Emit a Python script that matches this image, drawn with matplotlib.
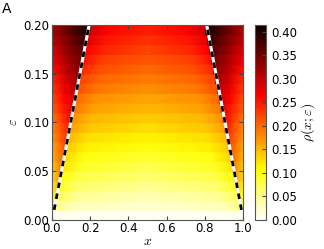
import numpy as np
import matplotlib
matplotlib.use("Agg")
import matplotlib.pyplot as plt

# band centres in epsilon (bands 0.01 high, 0..0.2)
eps_c = [0.005, 0.015, 0.025, 0.035, 0.045, 0.055, 0.065, 0.075, 0.085, 0.095,
         0.105, 0.115, 0.125, 0.135, 0.145, 0.155, 0.165, 0.175, 0.185, 0.195]
# density read at x = 0 (edge)
rho_edge = [0.006, 0.06, 0.09, 0.11, 0.13, 0.14, 0.15, 0.16, 0.17, 0.18,
            0.19, 0.205, 0.215, 0.23, 0.24, 0.255, 0.27, 0.285, 0.30, 0.315]
# density at x = eps/2
rho_half = [0.008, 0.08, 0.11, 0.13, 0.15, 0.165, 0.18, 0.19, 0.205, 0.215,
            0.23, 0.245, 0.26, 0.275, 0.29, 0.305, 0.32, 0.335, 0.35, 0.365]
# density just inside the boundary x = eps
rho_peak = [0.010, 0.10, 0.13, 0.155, 0.175, 0.19, 0.205, 0.22, 0.235, 0.25,
            0.265, 0.28, 0.295, 0.31, 0.325, 0.34, 0.355, 0.37, 0.39, 0.41]
# density just outside the boundary
rho_jump = [0.008, 0.05, 0.07, 0.09, 0.105, 0.12, 0.13, 0.14, 0.15, 0.165,
            0.175, 0.19, 0.20, 0.215, 0.225, 0.24, 0.255, 0.265, 0.28, 0.295]
# density at x = eps + 0.1
rho_after = [0.007, 0.03, 0.045, 0.06, 0.075, 0.09, 0.10, 0.115, 0.125, 0.14,
             0.15, 0.165, 0.175, 0.19, 0.20, 0.215, 0.225, 0.24, 0.25, 0.26]
# density at x = 0.5 (middle)
rho_mid = [0.006, 0.021, 0.034, 0.047, 0.06, 0.073, 0.086, 0.099, 0.112, 0.125,
           0.137, 0.15, 0.162, 0.175, 0.187, 0.198, 0.21, 0.222, 0.233, 0.245]

# boundary lines
line_eps = [0.01, 0.2]
line_xl = [0.012, 0.195]
line_xr = [0.992, 0.81]

band_h = 0.01
d = 0.002

plt.rcParams['mathtext.fontset'] = 'cm'
fig = plt.figure(figsize=(3.24, 2.49), dpi=100)
ax = fig.add_axes([0.16, 0.118, 0.59, 0.782])
cax = fig.add_axes([0.787, 0.118, 0.034, 0.782])

m = None
for i, e in enumerate(eps_c):
    xs = [0.0, e / 2, e - d, e + d, e + 0.1, 0.5,
          1 - e - 0.1, 1 - e - d, 1 - e + d, 1 - e / 2, 1.0]
    vs = [rho_edge[i], rho_half[i], rho_peak[i], rho_jump[i], rho_after[i], rho_mid[i],
          rho_after[i], rho_jump[i], rho_peak[i], rho_half[i], rho_edge[i]]
    ys = [e - band_h / 2 - 0.0003, e + band_h / 2 + 0.0003]
    Xb = np.array([xs, xs])
    Yb = np.array([[ys[0]] * len(xs), [ys[1]] * len(xs)])
    Cb = np.array([vs, vs])
    m = ax.pcolormesh(Xb, Yb, Cb, shading='gouraud', cmap='hot_r', vmin=0, vmax=0.415,
                      antialiased=False, zorder=1 + i * 0.001)

ax.plot(line_xl, line_eps, color='white', lw=2.2, zorder=3)
ax.plot(line_xl, line_eps, color='black', lw=2.0, ls=(0, (2.0, 2.0)), zorder=4)
ax.plot(line_xr, line_eps, color='white', lw=2.2, zorder=3)
ax.plot(line_xr, line_eps, color='black', lw=2.0, ls=(0, (2.0, 2.0)), zorder=4)

ax.set_xlim(0, 1)
ax.set_ylim(0, 0.2)
ax.set_xticks([0, 0.2, 0.4, 0.6, 0.8, 1.0])
ax.set_yticks([0, 0.05, 0.1, 0.15, 0.2])
ax.set_xticklabels(['0.0', '0.2', '0.4', '0.6', '0.8', '1.0'])
ax.set_yticklabels(['0.00', '0.05', '0.10', '0.15', '0.20'])
ax.tick_params(direction='in', top=True, right=True, labelsize=8.5, length=3,
               color='#444444', pad=2)
ax.set_xlabel(r'$x$', fontsize=10, labelpad=-1)
ax.set_ylabel(r'$\varepsilon$', fontsize=10, labelpad=2)
for s in ax.spines.values():
    s.set_color('#555555')
    s.set_zorder(5)

cb = fig.colorbar(m, cax=cax)
cb.set_ticks([0, 0.05, 0.1, 0.15, 0.2, 0.25, 0.3, 0.35, 0.4])
cb.set_ticklabels(['0.00', '0.05', '0.10', '0.15', '0.20', '0.25', '0.30', '0.35', '0.40'])
cax.tick_params(direction='in', labelsize=8.5, length=3, color='#444444')
cb.outline.set_edgecolor('#555555')
cb.set_label(r'$\rho(x;\varepsilon)$', fontsize=10, labelpad=2)

fig.text(0.005, 0.99, 'A', fontsize=10, va='top', ha='left')

fig.savefig('out.png', dpi=100)
